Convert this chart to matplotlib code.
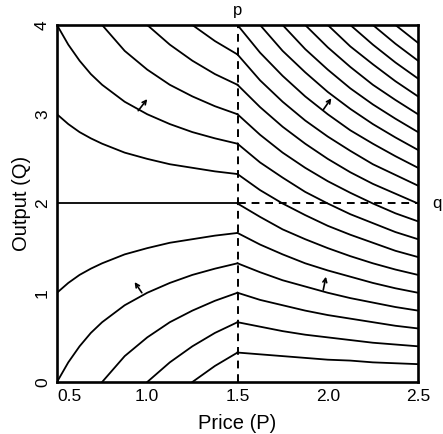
import matplotlib
matplotlib.use("Agg")
import matplotlib.pyplot as plt
import numpy as np

# iso-value curves
# left of the break (P < 1.5): Q at each P in p_left, one row per curve
p_left = [0.5, 0.5625, 0.625, 0.6875, 0.75, 0.875, 1.0, 1.125, 1.25, 1.375, 1.5]
q_left = [
    [-3.0, -2.44, -2.0, -1.64, -1.33, -0.86, -0.5, -0.22, 0.0, 0.18, 0.33],
    [-2.0, -1.56, -1.2, -0.91, -0.67, -0.29, 0.0, 0.22, 0.4, 0.55, 0.67],
    [-1.0, -0.67, -0.4, -0.18, 0.0, 0.29, 0.5, 0.67, 0.8, 0.91, 1.0],
    [0.0, 0.22, 0.4, 0.55, 0.67, 0.86, 1.0, 1.11, 1.2, 1.27, 1.33],
    [1.0, 1.11, 1.2, 1.27, 1.33, 1.43, 1.5, 1.56, 1.6, 1.64, 1.67],
    [2.0, 2.0, 2.0, 2.0, 2.0, 2.0, 2.0, 2.0, 2.0, 2.0, 2.0],
    [3.0, 2.89, 2.8, 2.73, 2.67, 2.57, 2.5, 2.44, 2.4, 2.36, 2.33],
    [4.0, 3.78, 3.6, 3.45, 3.33, 3.14, 3.0, 2.89, 2.8, 2.73, 2.67],
    [5.0, 4.67, 4.4, 4.18, 4.0, 3.71, 3.5, 3.33, 3.2, 3.09, 3.0],
    [6.0, 5.56, 5.2, 4.91, 4.67, 4.29, 4.0, 3.78, 3.6, 3.45, 3.33],
    [7.0, 6.44, 6.0, 5.64, 5.33, 4.86, 4.5, 4.22, 4.0, 3.82, 3.67],
    [8.0, 7.33, 6.8, 6.36, 6.0, 5.43, 5.0, 4.67, 4.4, 4.18, 4.0],
]
# right of the break (P >= 1.5)
p_right = [1.5, 1.625, 1.75, 1.875, 2.0, 2.125, 2.25, 2.375, 2.5]
q_right = [
    [0.33, 0.31, 0.29, 0.27, 0.25, 0.24, 0.22, 0.21, 0.20],
    [0.67, 0.62, 0.57, 0.53, 0.5, 0.47, 0.44, 0.42, 0.40],
    [1.0, 0.92, 0.86, 0.80, 0.75, 0.71, 0.67, 0.63, 0.60],
    [1.33, 1.23, 1.14, 1.07, 1.0, 0.94, 0.89, 0.84, 0.80],
    [1.67, 1.54, 1.43, 1.33, 1.25, 1.18, 1.11, 1.05, 1.0],
    [2.0, 1.85, 1.71, 1.6, 1.5, 1.41, 1.33, 1.26, 1.2],
    [2.33, 2.15, 2.0, 1.87, 1.75, 1.65, 1.56, 1.47, 1.4],
    [2.67, 2.46, 2.29, 2.13, 2.0, 1.88, 1.78, 1.68, 1.6],
    [3.0, 2.77, 2.57, 2.4, 2.25, 2.12, 2.0, 1.89, 1.8],
    [3.33, 3.08, 2.86, 2.67, 2.5, 2.35, 2.22, 2.11, 2.0],
    [3.67, 3.38, 3.14, 2.93, 2.75, 2.59, 2.44, 2.32, 2.2],
    [4.0, 3.69, 3.43, 3.2, 3.0, 2.82, 2.67, 2.53, 2.4],
    [4.33, 4.0, 3.71, 3.47, 3.25, 3.06, 2.89, 2.74, 2.6],
    [4.67, 4.31, 4.0, 3.73, 3.5, 3.29, 3.11, 2.95, 2.8],
    [5.0, 4.62, 4.29, 4.0, 3.75, 3.53, 3.33, 3.16, 3.0],
    [5.33, 4.92, 4.57, 4.27, 4.0, 3.76, 3.56, 3.37, 3.2],
    [5.67, 5.23, 4.86, 4.53, 4.25, 4.0, 3.78, 3.58, 3.4],
    [6.0, 5.54, 5.14, 4.8, 4.5, 4.24, 4.0, 3.79, 3.6],
    [6.33, 5.85, 5.43, 5.07, 4.75, 4.47, 4.22, 4.0, 3.8],
]
p_break = 1.5
q_target = 2.0
# arrows: (tail P, tail Q, head P, head Q)
arrows = [
    (0.95, 3.04, 1.0, 3.17),
    (0.97, 1.0, 0.93, 1.12),
    (1.975, 3.05, 2.02, 3.18),
    (1.975, 1.03, 1.99, 1.18),
]
xticks = [0.5, 1.0, 1.5, 2.0, 2.5]
xticklabels = ["0.5", "1.0", "1.5", "2.0", "2.5"]
yticks = [0, 1, 2, 3, 4]

plt.rcParams['font.family'] = ['Liberation Sans', 'DejaVu Sans']
fig = plt.figure(figsize=(4.43, 4.34), dpi=100)
ax = fig.add_axes([57/443, 52/434, 361/443, 357/434])

for row in q_left:
    ax.plot(p_left, row, color='black', lw=1.3)
for row in q_right:
    ax.plot(p_right, row, color='black', lw=1.3)

ax.axvline(p_break, color='black', lw=1.4, ls=(0, (4, 3)))
ax.plot([p_break, 2.5], [q_target, q_target], color='black', lw=1.4, ls=(0, (4, 3)))

for tp, tq, hp, hq in arrows:
    ax.annotate("", xy=(hp, hq), xytext=(tp, tq),
                arrowprops=dict(arrowstyle="->", color='black', lw=1.2,
                                mutation_scale=7, shrinkA=0, shrinkB=0))

ax.set_xlim(0.5, 2.5)
ax.set_ylim(0, 4)
ax.set_xticks(xticks)
ax.set_xticklabels(xticklabels, fontsize=12.5)
ax.get_xticklabels()[0].set_ha('left')
ax.set_yticks(yticks)
ax.set_yticklabels([str(v) for v in yticks], fontsize=12.5, rotation=90, va='center')
ax.tick_params(length=0, pad=5)
for s in ax.spines.values():
    s.set_linewidth(1.9)

ax.set_xlabel("Price (P)", fontsize=14.5, labelpad=7)
ax.set_ylabel("Output (Q)", fontsize=14.5, labelpad=3)
ax.text(p_break, 4.08, "p", ha='center', va='bottom', fontsize=12)
ax.text(2.58, q_target, "q", ha='left', va='center', fontsize=12)

fig.savefig("out.png", dpi=100)
